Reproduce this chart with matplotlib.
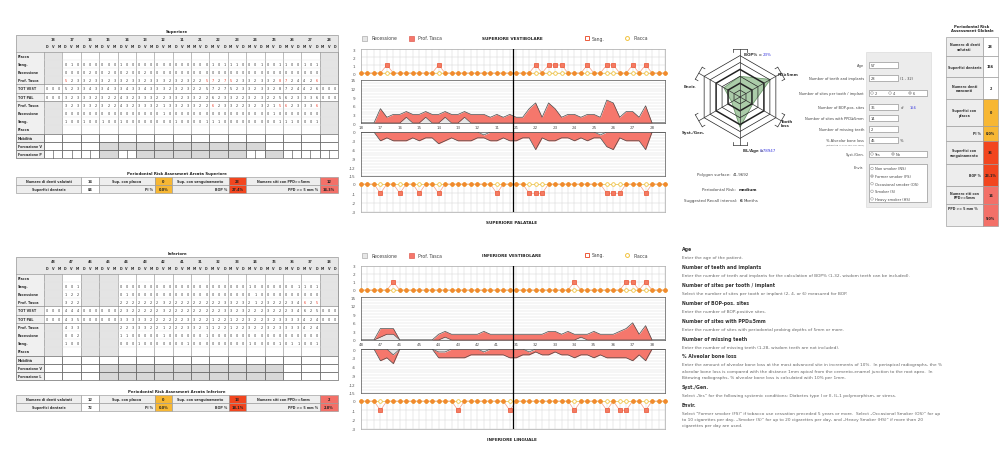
import numpy as np
import matplotlib
matplotlib.use("Agg")
import matplotlib.pyplot as plt
from matplotlib.patches import Rectangle, Polygon, Circle

plt.rcParams['font.family'] = ['DejaVu Sans']
plt.rcParams['axes.unicode_minus'] = False

# ------------------------------------------------------------------ DATA
upper_teeth = [18, 17, 16, 15, 14, 13, 12, 11, 21, 22, 23, 24, 25, 26, 27, 28]
lower_teeth = [48, 47, 46, 45, 44, 43, 42, 41, 31, 32, 33, 34, 35, 36, 37, 38]
upper_missing = [18, 28]
lower_missing = [48, 46, 45, 38]

# upper arch, vestibular side (3 sites per tooth, table order)
up_vest_placca = [0,0,0, 0,0,0, 0,0,0, 0,0,0, 0,0,0, 0,0,0, 0,0,0, 0,0,0, 0,0,0, 0,0,0, 0,0,0, 0,0,0, 0,0,0, 0,0,0, 0,0,0, 0,0,0]
up_vest_sang   = [0,0,0, 0,1,0, 0,0,0, 0,0,0, 1,0,0, 0,0,0, 0,0,0, 0,0,0, 0,0,0, 1,0,1, 1,1,0, 0,0,1, 0,0,1, 1,0,0, 1,0,1, 0,0,0]
up_vest_rec    = [0,0,0, 0,0,0, 0,2,0, 0,2,0, 0,2,0, 0,2,0, 0,0,0, 0,0,0, 0,0,0, 0,0,0, 0,0,0, 0,0,0, 0,0,0, 0,0,0, 0,0,0, 0,0,0]
up_vest_pd     = [0,0,0, 5,2,3, 3,2,3, 3,2,3, 3,2,3, 3,2,3, 3,3,2, 3,2,3, 2,2,5, 7,2,7, 5,2,3, 3,2,3, 3,2,8, 7,2,4, 4,2,6, 0,0,0]
# upper arch, palatal side
up_pal_pd      = [0,0,0, 3,2,3, 3,3,2, 3,2,2, 4,3,2, 3,3,3, 2,1,3, 3,2,3, 3,2,2, 6,2,3, 3,2,2, 3,2,3, 2,1,5, 6,2,3, 3,3,6, 0,0,0]
up_pal_rec     = [0,0,0, 0,0,0, 0,0,0, 0,0,0, 0,0,0, 0,0,0, 0,1,0, 0,0,0, 0,0,0, 0,0,0, 0,0,0, 0,0,0, 0,1,0, 0,0,0, 0,0,0, 0,0,0]
up_pal_sang    = [0,0,0, 1,0,0, 1,0,0, 1,0,0, 1,0,0, 0,0,0, 0,0,0, 1,0,0, 0,0,1, 1,1,0, 0,0,0, 0,0,0, 0,0,1, 1,1,0, 0,0,1, 0,0,0]
up_pal_placca  = [0,0,0, 0,0,0, 0,0,0, 0,0,0, 0,0,0, 0,0,0, 0,0,0, 0,0,0, 0,0,0, 0,0,0, 0,0,0, 0,0,0, 0,0,0, 0,0,0, 0,0,0, 0,0,0]

# lower arch, vestibular side
lo_vest_placca = [0,0,0, 0,0,0, 0,0,0, 0,0,0, 0,0,0, 0,0,0, 0,0,0, 0,0,0, 0,0,0, 0,0,0, 0,0,0, 0,0,0, 0,0,0, 0,0,0, 0,0,0, 0,0,0]
lo_vest_sang   = [0,0,0, 0,0,1, 0,0,0, 0,0,0, 0,0,0, 0,0,0, 0,0,0, 0,0,0, 0,0,0, 0,0,0, 0,0,0, 1,0,0, 0,0,0, 0,0,1, 1,0,1, 0,0,0]
lo_vest_rec    = [0,0,0, 1,2,2, 0,0,0, 0,0,0, 0,1,0, 0,0,0, 0,0,0, 0,0,0, 0,0,0, 0,0,0, 0,0,0, 0,1,0, 0,0,0, 0,0,0, 0,0,0, 0,0,0]
lo_vest_pd     = [0,0,0, 3,2,2, 0,0,0, 0,0,0, 2,2,2, 2,2,2, 2,3,2, 2,2,2, 2,2,2, 2,2,3, 3,2,3, 2,1,2, 3,2,2, 2,3,4, 6,2,5, 0,0,0]
# lower arch, lingual side
lo_ling_pd     = [0,0,0, 4,3,3, 0,0,0, 0,0,0, 2,2,3, 3,3,2, 2,1,2, 2,2,3, 3,2,1, 1,2,2, 1,2,2, 3,2,2, 3,2,3, 3,3,3, 4,2,4, 0,0,0]
lo_ling_rec    = [0,0,0, 0,0,2, 0,0,0, 0,0,0, 1,1,0, 0,0,0, 0,1,0, 0,0,0, 0,0,1, 0,0,0, 0,0,0, 0,0,0, 0,0,0, 0,0,0, 0,0,0, 0,0,0]
lo_ling_sang   = [0,0,0, 1,0,0, 0,0,0, 0,0,0, 0,0,0, 1,0,0, 0,0,0, 0,0,1, 0,0,0, 0,0,0, 0,0,0, 1,0,0, 0,0,1, 0,1,1, 0,0,1, 0,0,0]
lo_ling_placca = [0,0,0, 0,0,0, 0,0,0, 0,0,0, 0,0,0, 0,0,0, 0,0,0, 0,0,0, 0,0,0, 0,0,0, 0,0,0, 0,0,0, 0,0,0, 0,0,0, 0,0,0, 0,0,0]

# summary tables: [teeth, surfaces, plaque surf, PI%, bleeding surf, BOP%, sites PPD>=5, PPD>=5 %]
sum_upper = ["14", "84", "0", "0.0%", "23", "27.4%", "12", "14.3%"]
sum_lower = ["12", "72", "0", "0.0%", "13", "18.1%", "2", "2.8%"]

global_labels = ["Numero di denti\nvalutati", "Superfici dentarie", "Numero denti\nmancanti",
                 "Superfici con\nplacca", "PI %", "Superfici con\nsanguinamento", "BOP %",
                 "Numero siti con\nPPD>=5mm", "PPD >= 5 mm %"]
global_values = ["28", "156", "2", "0", "0.0%", "36", "23.1%", "14", "9.0%"]

radar_labels = ["BOP% = ", "PD≥5mm", "Tooth\nloss", "BL/Age = ", "Syst./Gen.", "Envir."]
radar_angles = [90, 30, -30, -90, 210, 150]
radar_values = [3.0, 5.1, 2.1, 4.4, 1.4, 2.7]
bop_text = "23%"
blage_text = "0.78947"

form_age = "57"
form_teeth = "28"
form_bop_sites = "36"
form_total_sites = "156"
form_ppd_sites = "14"
form_missing = "2"
form_bone_loss = "45"
envir_options = ["Non smoker (NS)", "Former smoker (FS)", "Occasional smoker (OS)", "Smoker (S)", "Heavy smoker (HS)"]

help_items = [
    ("Age", ["Enter the age of the patient."]),
    ("Number of teeth and implants", ["Enter the number of teeth and implants for the calculation of BOP% (1-32, wisdom teeth can be included)."]),
    ("Number of sites per tooth / implant", ["Select the number of sites per tooth or implant (2, 4, or 6) measured for BOP."]),
    ("Number of BOP-pos. sites", ["Enter the number of BOP-positive sites."]),
    ("Number of sites with PPD≥5mm", ["Enter the number of sites with periodontal probing depths of 5mm or more."]),
    ("Number of missing teeth", ["Enter the number of missing teeth (1-28, wisdom teeth are not included)."]),
    ("% Alveolar bone loss", ["Enter the amount of alveolar bone loss at the most advanced site in increments of 10%.  In periapical radiographs, the %",
                              "alveolar bone loss is compared with the distance 1mm apical from the cemento-enamel junction to the root apex.  In",
                              "Bitewing radiographs, % alveolar bone loss is calculated with 10% per 1mm."]),
    ("Syst./Gen.", ["Select \u201eYes\u201d for the following systemic conditions: Diabetes type I or II, IL-1 polymorphism, or stress."]),
    ("Envir.", ["Select \"Former smoker (FS)\" if tobacco use cessation preceded 5 years or more.  Select \u201eOccasional Smoker (OS)\u201d for up",
                "to 10 cigarettes per day, \u201eSmoker (S)\u201d for up to 20 cigarettes per day, and \u201eHeavy Smoker (HS)\u201d if more than 20",
                "cigarettes per day are used."]),
]

# ------------------------------------------------------------------ FIGURE
W, H = 1000, 452
fig = plt.figure(figsize=(10, 4.52), dpi=100)
fig.patch.set_facecolor('white')
ov = fig.add_axes([0, 0, 1, 1])
ov.set_xlim(0, W)
ov.set_ylim(H, 0)
ov.axis('off')


def pax(x0, y0, x1, y1):
    return fig.add_axes([x0 / W, 1 - y1 / H, (x1 - x0) / W, (y1 - y0) / H])


ORANGE = '#f7b733'
RED = '#f2461f'
SALMON = '#f37068'
AREA = '#f5776c'


def T(x, y, s, size=2.6, ha='center', bold=False, color='#333', **kw):
    ov.text(x, y, s, ha=ha, va='center', fontsize=size,
            fontweight='bold' if bold else 'normal', color=color, **kw)


# ------------------------------------------------------------------ ARCH TABLES
def arch_table(y0, title, teeth, missing, rows, row_labels, forc_labels,
               forcA_gray, forcB_gray, forcB_split):
    x0, xl, x1 = 16.0, 44.0, 338.0
    cw = (x1 - xl) / 16.0
    sw = cw / 3.0
    hh, rh = 16.5, 8.2
    yd = y0 + hh
    ybot_data = yd + 10 * rh
    ybot = yd + 13 * rh
    T((x0 + x1) / 2, y0 - 4, title, size=2.9, bold=True, color='#222')
    ov.add_patch(Rectangle((x0, y0), x1 - x0, hh, fc='#e8e8e8', ec='none'))
    ov.add_patch(Rectangle((x0, yd), xl - x0, 13 * rh, fc='#f0f0f0', ec='none'))
    for k, t in enumerate(teeth):
        cx = xl + k * cw
        T(cx + cw / 2, y0 + 3.8, str(t), size=2.4, bold=True)
        letters = 'DVM' if k < 8 else 'MVD'
        for s in range(3):
            T(cx + (s + 0.5) * sw, y0 + 11.2, letters[s], size=2.4, bold=True)
        miss = t in missing
        for r in range(10):
            ry = yd + r * rh
            if miss and r not in (4, 5):
                ov.add_patch(Rectangle((cx, ry), cw, rh, fc='#e4e4e4', ec='none'))
                continue
            vals = rows[r]
            if vals is None:
                continue
            for s in range(3):
                v = vals[3 * k + s]
                col = '#e8321e' if (r in (3, 6) and v >= 5) else '#333'
                T(cx + (s + 0.5) * sw, ry + rh / 2, str(v), size=2.4, color=col)
        for r in range(3):
            ry = ybot_data + r * rh
            gray = (r == 1 and t in forcA_gray) or (r == 2 and t in forcB_gray)
            ov.add_patch(Rectangle((cx, ry), cw, rh, fc='#d8d8d8' if gray else 'white',
                                   ec='#555', lw=0.45))
            if r == 2 and t in forcB_split:
                ov.plot([cx + cw / 2, cx + cw / 2], [ry, ry + rh], color='#555', lw=0.45)
    for r, lab in enumerate(row_labels):
        T(x0 + 1.5, yd + (r + 0.5) * rh, lab, size=2.4, ha='left', bold=True)
    for r, lab in enumerate(forc_labels):
        ry = ybot_data + r * rh
        ov.add_patch(Rectangle((x0, ry), xl - x0, rh, fc='#eeeeee', ec='#555', lw=0.45))
        T(x0 + 1.5, ry + rh / 2, lab, size=2.4, ha='left', bold=True)
    for k in range(17):
        xx = xl + k * cw
        ov.plot([xx, xx], [yd, ybot_data], color='#8a8a8a', lw=0.4)
    for r in (4, 5, 6):
        ov.plot([x0, x1], [yd + r * rh, yd + r * rh], color='#8a8a8a', lw=0.5)
    for r in (1, 2, 3, 7, 8, 9):
        ov.plot([xl, x1], [yd + r * rh, yd + r * rh], color='#e2e2e2', lw=0.3)
    ov.plot([x0, x1], [yd, yd], color='#999', lw=0.5)
    ov.add_patch(Rectangle((x0, y0), x1 - x0, ybot - y0, fc='none', ec='#999', lw=0.5))


def summary_table(y0, title, vals):
    cols = [16, 81, 99, 155, 172, 229, 246, 320, 338]
    rh = 8.2
    T(177, y0 - 4, title, size=2.8, bold=True, color='#222')
    lab1 = ["Numero di denti valutati", "Sup. con placca", "Sup. con sanguinamento", "Numero siti con PPD>=5mm"]
    lab2 = ["Superfici dentarie", "PI %", "BOP %", "PPD >= 5 mm %"]
    fills = ['white', ORANGE, RED, SALMON]
    for j in range(4):
        a, b, c = cols[2 * j], cols[2 * j + 1], cols[2 * j + 2]
        for r in range(2):
            ry = y0 + r * rh
            ov.add_patch(Rectangle((a, ry), b - a, rh, fc='#eeeeee', ec='#999', lw=0.45))
            ov.add_patch(Rectangle((b, ry), c - b, rh, fc=fills[j], ec='#999', lw=0.45))
            T((b + c) / 2, ry + rh / 2, vals[2 * j + r], size=2.5, bold=True,
              color='#333' if j == 0 else '#222')
        T((a + b) / 2, y0 + rh / 2, lab1[j], size=2.4, bold=True)
        if j == 0:
            T((a + b) / 2, y0 + 1.5 * rh, lab2[j], size=2.4, bold=True)
        else:
            T(b - 2, y0 + 1.5 * rh, lab2[j], size=2.4, ha='right', bold=True)


def tot(a, b):
    return [p + q for p, q in zip(a, b)]


row_labels_up = ["Placca", "Sang.", "Recessione", "Prof. Tasca", "TOT VEST", "TOT PAL",
                 "Prof. Tasca", "Recessione", "Sang.", "Placca"]
arch_table(36, "Superiore", upper_teeth, upper_missing,
           [None, up_vest_sang, up_vest_rec, up_vest_pd, tot(up_vest_rec, up_vest_pd),
            tot(up_pal_rec, up_pal_pd), up_pal_pd, up_pal_rec, up_pal_sang, None],
           row_labels_up, ["Mobilità", "Forcazione V", "Forcazione P"],
           [15, 14, 13, 12, 11, 21, 22, 23, 24], [15, 13, 12, 11, 21, 22, 23, 25],
           [18, 17, 16, 14, 24, 26, 27, 28])
summary_table(178, "Periodontal Risk Assesment Arcata Superiore", sum_upper)

arch_table(258, "Inferiore", lower_teeth, lower_missing,
           [None, lo_vest_sang, lo_vest_rec, lo_vest_pd, tot(lo_vest_rec, lo_vest_pd),
            tot(lo_ling_rec, lo_ling_pd), lo_ling_pd, lo_ling_rec, lo_ling_sang, None],
           row_labels_up, ["Mobilità", "Forcazione V", "Forcazione L"],
           [45, 44, 43, 42, 41, 31, 32, 33, 34, 35], [45, 44, 43, 42, 41, 31, 32, 33, 34, 35], [])
summary_table(396, "Periodontal Risk Assesment Arcata Inferiore", sum_lower)


# ------------------------------------------------------------------ CHARTS
def style_frame(ax, col='#888'):
    for sp in ax.spines.values():
        sp.set_color(col)
        sp.set_linewidth(0.5)


def small_axis(ax, lo, hi, sang, placca):
    x = np.arange(48)
    ax.set_xticks(x)
    ax.set_yticks(np.arange(lo, hi + 1))
    ax.set_yticklabels([str(v) for v in np.arange(lo, hi + 1)])
    ax.set_xlim(0, 47)
    ax.set_ylim(lo, hi)
    ax.tick_params(axis='x', length=0, labelbottom=False)
    ax.tick_params(axis='y', length=0, labelsize=3.0, labelcolor='#555', pad=4)
    ax.grid(True, color='#d4d4d4', lw=0.35)
    ax.set_axisbelow(True)
    style_frame(ax, '#aaa')
    sgn = 1 if hi > 0 else -1
    s = np.array(sang) * sgn
    p = np.array(placca) * sgn
    ax.plot(x, p, color='#f3d36a', lw=0.5, clip_on=False, zorder=3)
    ax.plot(x, p, 'o', ms=2.6, mfc='white', mec='#f2c23c', mew=0.6, clip_on=False, zorder=4)
    ax.plot(x, s, color='#f4a08a', lw=0.5, clip_on=False, zorder=3)
    z = np.array(sang) == 0
    ax.plot(x[z], s[z], 'o', ms=2.6, mfc='#f38a2f', mec='#ee7a22', mew=0.4, clip_on=False, zorder=5)
    ax.plot(x[~z], s[~z], 's', ms=2.4, mfc='#f47a62', mec='#e9512f', mew=0.5, clip_on=False, zorder=5)


def main_axis(ax, rec, pd, positive, labels):
    x = np.arange(48)
    rec = np.array(rec)
    t = rec + np.array(pd)
    sg = 1 if positive else -1
    if positive:
        ax.set_yticks([0, 3, 6, 9, 12, 15])
        ax.set_yticks(np.arange(0, 16), minor=True)
    else:
        ax.set_yticks([0, -3, -6, -9, -12, -15])
        ax.set_yticks(np.arange(-15, 1), minor=True)
    if labels is not None:
        ax.set_xticks(np.arange(0, 48, 3))
        ax.set_xticklabels([str(v) for v in labels])
        ax.tick_params(axis='x', length=0, labelsize=3.0, labelcolor='#555', pad=1.5)
    else:
        ax.set_xticks([])
    ax.fill_between(x, sg * rec, sg * t, color=AREA, lw=0, zorder=2)
    ax.fill_between(x, 0, sg * rec, color='#e6e6e6', lw=0, zorder=2)
    ax.plot(x, sg * t, color='#4a4a4a', lw=0.5, zorder=3)
    ax.plot(x, sg * rec, color='#4a4a4a', lw=0.45, zorder=3)
    ax.set_xlim(0, 47)
    ax.set_ylim((0, 15) if positive else (-15, 0))
    ax.tick_params(axis='y', which='both', length=0, labelsize=3.0, labelcolor='#555', pad=4)
    ax.grid(True, axis='y', which='both', color='#dcdcdc', lw=0.35)
    ax.set_axisbelow(True)
    style_frame(ax, '#555')


def chart(yb, title_top, title_bot, teeth, vr, vp, vs, vpl, ir, ip, isg, ipl):
    X0, X1 = 361, 665
    ly = yb - 11
    ov.add_patch(Rectangle((362, ly - 2.5), 4.5, 5, fc='#e6e6e6', ec='#9a9a9a', lw=0.4))
    T(371, ly, "Recessione", size=3.3, ha='left', color='#444')
    ov.add_patch(Rectangle((409, ly - 2.5), 4.5, 5, fc=AREA, ec='#d9473a', lw=0.4))
    T(418, ly, "Prof. Tasca", size=3.3, ha='left', color='#444')
    T(512, ly, title_top, size=3.1, bold=True, color='#222')
    ov.plot([587], [ly], 's', ms=2.6, mfc='white', mec='#ec5a3a', mew=0.7)
    T(592, ly, "Sang.", size=3.3, ha='left', color='#444')
    ov.plot([627], [ly], 'o', ms=2.8, mfc='white', mec='#f2c23c', mew=0.7)
    T(633, ly, "Placca", size=3.3, ha='left', color='#444')

    a1 = pax(X0, yb, X1, yb + 24)
    small_axis(a1, 0, 3, vs, vpl)
    a2 = pax(X0, yb + 31, X1, yb + 74)
    main_axis(a2, vr, vp, True, teeth)
    a3 = pax(X0, yb + 83, X1, yb + 127)
    main_axis(a3, ir, ip, False, None)
    a4 = pax(X0, yb + 135, X1, yb + 163)
    small_axis(a4, -3, 0, isg, ipl)
    T(512, yb + 173, title_bot, size=3.1, bold=True, color='#222')
    al = pax(X0, yb, X1, yb + 163)
    al.set_xlim(0, 47)
    al.set_ylim(0, 1)
    al.axis('off')
    al.patch.set_alpha(0)
    al.axvline(23.5, color='black', lw=0.9)


chart(50, "SUPERIORE VESTIBOLARE", "SUPERIORE PALATALE", upper_teeth,
      up_vest_rec, up_vest_pd, up_vest_sang, up_vest_placca,
      up_pal_rec, up_pal_pd, up_pal_sang, up_pal_placca)
chart(267, "INFERIORE VESTIBOLARE", "INFERIORE LINGUALE", lower_teeth,
      lo_vest_rec, lo_vest_pd, lo_vest_sang, lo_vest_placca,
      lo_ling_rec, lo_ling_pd, lo_ling_sang, lo_ling_placca)

# ------------------------------------------------------------------ RADAR
cx, cy, half = 740, 98, 52
unit = 6.9
ar = pax(cx - half, cy - half, cx + half, cy + half)
ar.set_xlim(-half / unit, half / unit)
ar.set_ylim(-half / unit, half / unit)
ar.axis('off')
ar.patch.set_alpha(0)
th = np.deg2rad(np.array(radar_angles))
vals = np.array(radar_values)
ar.add_patch(Polygon(np.column_stack([vals * np.cos(th), vals * np.sin(th)]), closed=True,
                     fc='#9cc49a', ec='#5f8f5d', lw=0.6, alpha=0.85, zorder=2))
for r in range(1, 7):
    ar.add_patch(Polygon(np.column_stack([r * np.cos(th), r * np.sin(th)]), closed=True,
                         fc='none', ec='#222', lw=1.1 if r in (2, 4) else 0.5, zorder=3))
for a in th:
    d = np.array([np.cos(a), np.sin(a)])
    pp = np.array([-np.sin(a), np.cos(a)])
    e = 6.9 * d
    ar.plot([0, e[0]], [0, e[1]], color='#333', lw=0.5, zorder=3)
    p1, p2 = e - 1.0 * pp, e + 1.0 * pp
    ar.plot([p1[0], p2[0]], [p1[1], p2[1]], color='#333', lw=0.5)
    for q in (p1, p2):
        q2 = q - 0.45 * d
        ar.plot([q[0], q2[0]], [q[1], q2[1]], color='#333', lw=0.5)

T(744, 55, radar_labels[0], size=2.9, ha='left', color='#333', bold=True)
T(763, 55, bop_text, size=2.9, ha='left', color='#3a3adf')
T(778, 75, radar_labels[1], size=2.9, ha='left', color='#333', bold=True)
T(781, 124, radar_labels[2], size=2.9, ha='left', color='#333', bold=True, linespacing=1.1)
T(743, 151, radar_labels[3], size=2.9, ha='left', color='#333', bold=True)
T(760, 151, blage_text, size=2.9, ha='left', color='#3a3adf')
T(682, 133, radar_labels[4], size=2.9, ha='left', color='#333', bold=True)
T(684, 87, radar_labels[5], size=2.9, ha='left', color='#333', bold=True)

T(731, 175, "Polygon surface:", size=2.9, ha='right', color='#444')
T(733, 175, "41.9692", size=2.9, ha='left', color='#444')
T(736, 190, "Periodontal Risk:", size=2.9, ha='right', color='#444')
T(739, 190, "medium", size=2.9, ha='left', color='#222', bold=True)
T(737, 201, "Suggested Recall interval:", size=2.9, ha='right', color='#444')
T(740, 201, "6", size=2.9, ha='left', color='#222', bold=True)
T(744, 201, "Months", size=2.9, ha='left', color='#444')

# ------------------------------------------------------------------ FORM
ov.add_patch(Rectangle((866, 53), 65, 155, fc='#ececec', ec='#d6d6d6', lw=0.4))


def box(x0, y, x1, h=5.6):
    ov.add_patch(Rectangle((x0, y - h / 2), x1 - x0, h, fc='white', ec='#8a8a8a', lw=0.45))


def radio(x, y, on):
    ov.add_patch(Circle((x, y), 1.3, fc='white', ec='#999', lw=0.4))
    if on:
        ov.add_patch(Circle((x, y), 0.6, fc='#555', ec='none'))


LX = 864
form_rows = [("Age", 66), ("Number of teeth and implants", 79), ("Number of sites per tooth / implant", 94),
             ("Number of BOP-pos. sites", 108), ("Number of sites with PPD≥5mm", 119),
             ("Number of missing teeth", 130), ("% Alveolar bone loss", 141), ("Syst./Gen.", 155), ("Envir.", 168)]
for lab, y in form_rows:
    T(LX, y, lab, size=2.6, ha='right', color='#444')
T(LX, 145.5, "(estimated in % or 10% per 1mm)", size=1.6, ha='right', color='#666')
for val, y in [(form_age, 66), (form_teeth, 79), (form_bop_sites, 108), (form_ppd_sites, 119),
               (form_missing, 130), (form_bone_loss, 141)]:
    box(869, y, 898)
    T(870.5, y, val, size=2.6, ha='left', color='#333')
T(900, 79, "(1 - 32)", size=2.6, ha='left', color='#444')
T(901, 108, "of", size=2.6, ha='left', color='#444')
T(910, 108, form_total_sites, size=2.6, ha='left', color='#3a3adf')
T(900, 141, "%", size=2.6, ha='left', color='#444')
box(869, 94, 927)
for xx, lab, on in [(872, "2", False), (890, "4", False), (910, "6", True)]:
    radio(xx, 94, on)
    T(xx + 2.5, 94, lab, size=2.6, ha='left', color='#444')
box(869, 155, 927)
for xx, lab, on in [(872, "Yes", False), (893, "No", True)]:
    radio(xx, 155, on)
    T(xx + 2.5, 155, lab, size=2.6, ha='left', color='#444')
ov.add_patch(Rectangle((869, 165), 58, 38, fc='white', ec='#8a8a8a', lw=0.45))
for i, opt in enumerate(envir_options):
    yy = 169.5 + i * 7.6
    radio(872, yy, i == 1)
    T(875, yy, opt, size=2.6, ha='left', color='#444')

# ------------------------------------------------------------------ GLOBAL TABLE
T(972, 29, "Periodontal Risk\nAssessment Globale", size=2.7, bold=True, color='#222', linespacing=1.1)
gy = [38, 57, 78, 100, 127, 142, 165, 187, 205, 227]
gfill = ['white', 'white', 'white', ORANGE, ORANGE, RED, RED, SALMON, SALMON]
for i, (lab, val) in enumerate(zip(global_labels, global_values)):
    a, b = gy[i], gy[i + 1]
    ov.add_patch(Rectangle((946, a), 37, b - a, fc='#ededed', ec='#999', lw=0.45))
    ov.add_patch(Rectangle((983, a), 15, b - a, fc=gfill[i], ec='#999', lw=0.45))
    if lab in ("PI %", "BOP %"):
        T(981, (a + b) / 2, lab, size=2.3, ha='right', bold=True)
    elif lab.startswith("PPD >="):
        T(948, a + 4, lab, size=2.3, ha='left', bold=True)
    else:
        T(964.5, (a + b) / 2, lab, size=2.3, bold=True, linespacing=1.1)
    vy = (a + b) / 2 + (3 if lab.startswith("PPD >=") else 0)
    T(990.5, vy, val, size=2.4, bold=True, color='#222')

# ------------------------------------------------------------------ HELP TEXT
yy = 250
for head, lines in help_items:
    T(682, yy, head, size=3.3, ha='left', bold=True, color='#333')
    yy += 8.5
    for ln in lines:
        T(682, yy, ln, size=3.1, ha='left', color='#666')
        yy += 6.3
    yy += 3

fig.savefig("out.png", dpi=100, facecolor='white')
